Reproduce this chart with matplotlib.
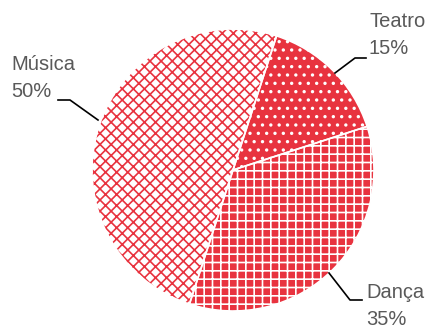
import matplotlib as mpl
mpl.use("Agg")
import matplotlib.pyplot as plt

mpl.rcParams["hatch.linewidth"] = 1.2

labels = ["Teatro", "Dança", "Música"]
shares = [15, 35, 50]
RED = "#E8333F"
GRAY = "#595959"

fig = plt.figure(figsize=(4.37, 3.3), dpi=100)
ax = fig.add_axes([0, 0, 1, 1])

cx, cy, r = 233, 330 - 170, 141
wedges, _ = ax.pie(shares, startangle=72, counterclock=False, center=(cx, cy), radius=r,
                   frame=True)

styles = [(RED, "white", ".."), (RED, "white", "++"), ("white", RED, "xxx")]
for w, (fc, hc, h) in zip(wedges, styles):
    w.set_facecolor(fc); w.set_edgecolor(hc); w.set_hatch(h); w.set_linewidth(0)

# white separators between slices
ax.pie(shares, startangle=72, counterclock=False, center=(cx, cy), radius=r,
       frame=True, wedgeprops=dict(fc="none", ec="white", lw=1.2))
ax.set_xlim(0, 437); ax.set_ylim(0, 330); ax.set_aspect("equal"); ax.axis("off")

def Y(y): return 330 - y

# leader lines (pixel coords)
ax.plot([335, 355, 366], [Y(73), Y(58), Y(58)], c="k", lw=1.2)
ax.plot([329, 350, 362], [Y(273), Y(300), Y(300)], c="k", lw=1.2)
ax.plot([98, 70, 58], [Y(120), Y(100), Y(100)], c="k", lw=1.2)

fk = dict(fontsize=14.5, color=GRAY, family="Liberation Sans", linespacing=1.55)
ax.text(369, Y(12), f"{labels[0]}\n{shares[0]}%", ha="left", va="top", **fk)
ax.text(366, Y(283), f"{labels[1]}\n{shares[1]}%", ha="left", va="top", **fk)
ax.text(11, Y(55), f"{labels[2]}\n{shares[2]}%", ha="left", va="top", **fk)

fig.savefig("out.png", dpi=100)
